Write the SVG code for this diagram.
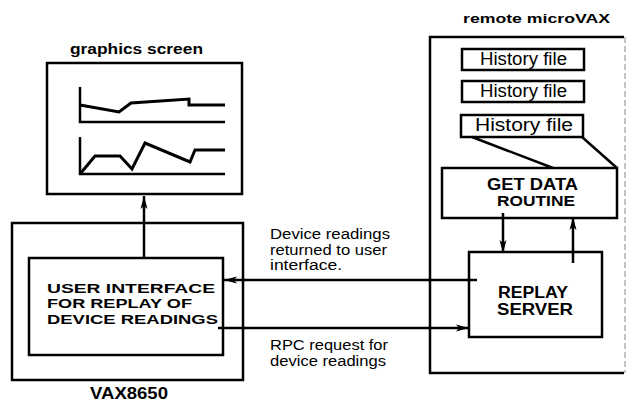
<svg xmlns="http://www.w3.org/2000/svg" width="627" height="404" viewBox="0 0 627 404">
<style>
.box{fill:none;stroke:#000;stroke-width:2.5}
.ln{fill:none;stroke:#000;stroke-width:2.5}
.plot{fill:none;stroke:#000;stroke-width:3;stroke-linejoin:miter}
.axis{fill:none;stroke:#000;stroke-width:2.5}
.t{font-family:"Liberation Sans",Arial,sans-serif;fill:#000}
.b{font-weight:bold}
</style>
<defs>
<marker id="ah" markerUnits="userSpaceOnUse" markerWidth="14" markerHeight="8" refX="13" refY="4" orient="auto">
<path d="M0,0.5 L13,4 L0,7.5 L3,4 Z" fill="#000"/>
</marker>
</defs>
<rect width="627" height="404" fill="#fff"/>

<g id="graphics-screen">
<text class="t b" x="70" y="54" font-size="14" textLength="133" lengthAdjust="spacingAndGlyphs">graphics screen</text>
<rect class="box" x="47" y="63" width="195" height="131"/>
<path class="axis" d="M80,87 V122 H225"/>
<path class="plot" d="M80,105 L119,112 L131,103 L189,99 V105 H225"/>
<path class="axis" d="M80,137 V174 H225"/>
<path class="plot" d="M80,174 L95,156 L120,156 L132,169 L145,143 L190,162 L195,150 H225"/>
</g>

<g id="vax8650">
<rect class="box" x="12" y="223" width="231" height="157"/>
<text class="t b" x="90" y="399" font-size="16" textLength="78" lengthAdjust="spacingAndGlyphs">VAX8650</text>
</g>

<g id="user-interface">
<rect class="box" x="29" y="258" width="194" height="97"/>
<text class="t b" x="47" y="292.5" font-size="13.5" textLength="168" lengthAdjust="spacingAndGlyphs">USER INTERFACE</text>
<text class="t b" x="47" y="308" font-size="13.5" textLength="145" lengthAdjust="spacingAndGlyphs">FOR REPLAY OF</text>
<text class="t b" x="47" y="323.5" font-size="13.5" textLength="171" lengthAdjust="spacingAndGlyphs">DEVICE READINGS</text>
</g>

<g id="remote-microvax">
<text class="t b" x="463" y="23" font-size="13" textLength="147" lengthAdjust="spacingAndGlyphs">remote microVAX</text>
<path class="box" d="M624,37 H430 V373 H624"/>
<line x1="625" y1="37" x2="625" y2="373" stroke="#888" stroke-width="1" stroke-dasharray="6,3"/>
</g>

<g id="history-file-1">
<rect class="box" x="462" y="49" width="122" height="21"/>
<text class="t" x="480" y="64.5" font-size="18" textLength="87" lengthAdjust="spacingAndGlyphs">History file</text>
</g>
<g id="history-file-2">
<rect class="box" x="462" y="81" width="122" height="21"/>
<text class="t" x="480" y="96.5" font-size="18" textLength="87" lengthAdjust="spacingAndGlyphs">History file</text>
</g>
<g id="history-file-3">
<rect class="box" x="461" y="115" width="122" height="22"/>
<text class="t" x="475" y="131" font-size="17.5" textLength="98" lengthAdjust="spacingAndGlyphs">History file</text>
</g>

<g id="get-data-routine">
<rect class="box" x="442" y="168" width="175" height="50"/>
<text class="t b" x="487" y="190" font-size="16" textLength="91" lengthAdjust="spacingAndGlyphs">GET DATA</text>
<text class="t b" x="497" y="205.5" font-size="15" textLength="78" lengthAdjust="spacingAndGlyphs">ROUTINE</text>
</g>

<g id="replay-server">
<rect class="box" x="469" y="252" width="133" height="85"/>
<text class="t b" x="498" y="298" font-size="16" textLength="70" lengthAdjust="spacingAndGlyphs">REPLAY</text>
<text class="t b" x="497" y="315" font-size="16" textLength="76" lengthAdjust="spacingAndGlyphs">SERVER</text>
</g>

<g id="connectors">
<line class="ln" x1="144" y1="258" x2="144" y2="196" marker-end="url(#ah)"/>
<line class="ln" x1="477" y1="280" x2="224" y2="280" marker-end="url(#ah)"/>
<line class="ln" x1="218" y1="328" x2="469" y2="328" marker-end="url(#ah)"/>
<line class="ln" x1="503" y1="213" x2="503" y2="253" marker-end="url(#ah)"/>
<line class="ln" x1="573" y1="263" x2="573" y2="217" marker-end="url(#ah)"/>
<line class="ln" x1="472" y1="137" x2="553" y2="168"/>
<line class="ln" x1="582" y1="137" x2="617" y2="168"/>
</g>

<g id="labels">
<text class="t" x="270" y="239" font-size="14" textLength="120" lengthAdjust="spacingAndGlyphs">Device readings</text>
<text class="t" x="270" y="254.5" font-size="14" textLength="117" lengthAdjust="spacingAndGlyphs">returned to user</text>
<text class="t" x="270" y="270" font-size="14" textLength="72" lengthAdjust="spacingAndGlyphs">interface.</text>
<text class="t" x="270" y="349.5" font-size="14" textLength="118" lengthAdjust="spacingAndGlyphs">RPC request for</text>
<text class="t" x="270" y="365.5" font-size="14" textLength="116" lengthAdjust="spacingAndGlyphs">device readings</text>
</g>
</svg>
